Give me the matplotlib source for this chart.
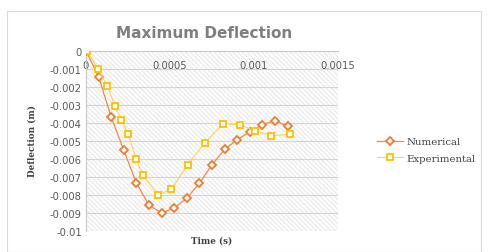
import matplotlib
matplotlib.use('Agg')
import matplotlib.pyplot as plt
from matplotlib.patches import Rectangle

# values
num_time = [0, 0.000075, 0.00015, 0.000225, 0.0003, 0.000375, 0.00045, 0.000525,
            0.0006, 0.000675, 0.00075, 0.000825, 0.0009, 0.000975, 0.00105, 0.001125, 0.0012]
num_defl = [0, -0.00143, -0.00367, -0.00552, -0.00733, -0.00857, -0.0090, -0.00872,
            -0.00818, -0.00735, -0.00632, -0.00546, -0.00493, -0.00448, -0.00409, -0.00387, -0.00418]

exp_time = [0.000005, 0.000073, 0.000127, 0.000173, 0.00021, 0.000252, 0.000298, 0.000338,
            0.000429, 0.000508, 0.000605, 0.000707, 0.000817, 0.000917, 0.001006, 0.001103, 0.001214]
exp_defl = [0, -0.00102, -0.00196, -0.00306, -0.00381, -0.00463, -0.0060, -0.00689,
            -0.0080, -0.00768, -0.00632, -0.00511, -0.00403, -0.00411, -0.00443, -0.00471, -0.00463]

x_ticks = [0, 0.0005, 0.001, 0.0015]
x_labels = ['0', '0.0005', '0.001', '0.0015']
y_ticks = [0, -0.001, -0.002, -0.003, -0.004, -0.005, -0.006, -0.007, -0.008, -0.009, -0.01]
y_labels = ['0', '-0.001', '-0.002', '-0.003', '-0.004', '-0.005', '-0.006', '-0.007',
            '-0.008', '-0.009', '-0.01']

plt.rcParams['hatch.linewidth'] = 0.5

W, H = 489, 253
fig = plt.figure(figsize=(W / 100, H / 100), dpi=100)

# chart border
fig.patches.append(Rectangle((7 / W, 0), 474 / W, 1 - 12 / H, transform=fig.transFigure,
                             fill=False, edgecolor='#d9d9d9', linewidth=0.8))

ax = fig.add_axes([86 / W, 1 - 232 / H, 252 / W, 180 / H])
ax.set_xlim(0, 0.0015)
ax.set_ylim(-0.01, 0)

# hatched plot background
ax.add_patch(Rectangle((0, 0), 1, 1, transform=ax.transAxes, facecolor='#fcfcfc',
                       edgecolor='#e2e2e2', hatch='\\' * 7, linewidth=0, zorder=0))
for y in y_ticks[1:]:
    ax.axhline(y, color='#d4d4d4', linewidth=0.8, zorder=1)

ax.plot(num_time, num_defl, color='#F08A45', linewidth=0.9, marker='D', markersize=3.6,
        markerfacecolor='white', markeredgecolor='#ED7D31', markeredgewidth=1.3,
        label='Numerical', zorder=3)
ax.plot(exp_time, exp_defl, color='#FFD35A', linewidth=0.8, marker='s', markersize=4.8,
        markerfacecolor='white', markeredgecolor='#FFC000', markeredgewidth=1.3,
        label='Experimental', zorder=4)

ax.set_xticks(x_ticks)
ax.set_xticklabels(x_labels)
ax.set_yticks(y_ticks)
ax.set_yticklabels(y_labels)
ax.tick_params(axis='x', top=True, labeltop=True, bottom=False, labelbottom=False,
               length=0, pad=-14, labelsize=7.2, labelcolor='#595959')
ax.tick_params(axis='y', length=0, pad=3, labelsize=7.2, labelcolor='#595959')

for side in ['right', 'bottom']:
    ax.spines[side].set_visible(False)
ax.spines['left'].set_color('#c8c8c8')
ax.spines['top'].set_color('#c8c8c8')
ax.spines['left'].set_linewidth(0.8)
ax.spines['top'].set_linewidth(0.8)

fig.text(204 / W, 1 - 34 / H, 'Maximum Deflection', ha='center', va='center',
         fontsize=11, fontweight='bold', color='#7f7f7f', family='DejaVu Sans')
fig.text(32 / W, 1 - 141 / H, 'Deflection (m)', ha='center', va='center', rotation=90,
         fontsize=6.3, fontweight='bold', color='#404040', family='DejaVu Serif')
fig.text(212 / W, 1 - 241 / H, 'Time (s)', ha='center', va='center',
         fontsize=6.3, fontweight='bold', color='#404040', family='DejaVu Serif')

leg = fig.legend(loc='upper left', bbox_to_anchor=(368 / W, 1 - 129 / H), frameon=False,
                 prop={'family': 'DejaVu Serif', 'size': 7.3}, handlelength=2.6,
                 handletextpad=0.3, labelspacing=0.75, labelcolor='#404040')

fig.savefig('out.png', dpi=100)
